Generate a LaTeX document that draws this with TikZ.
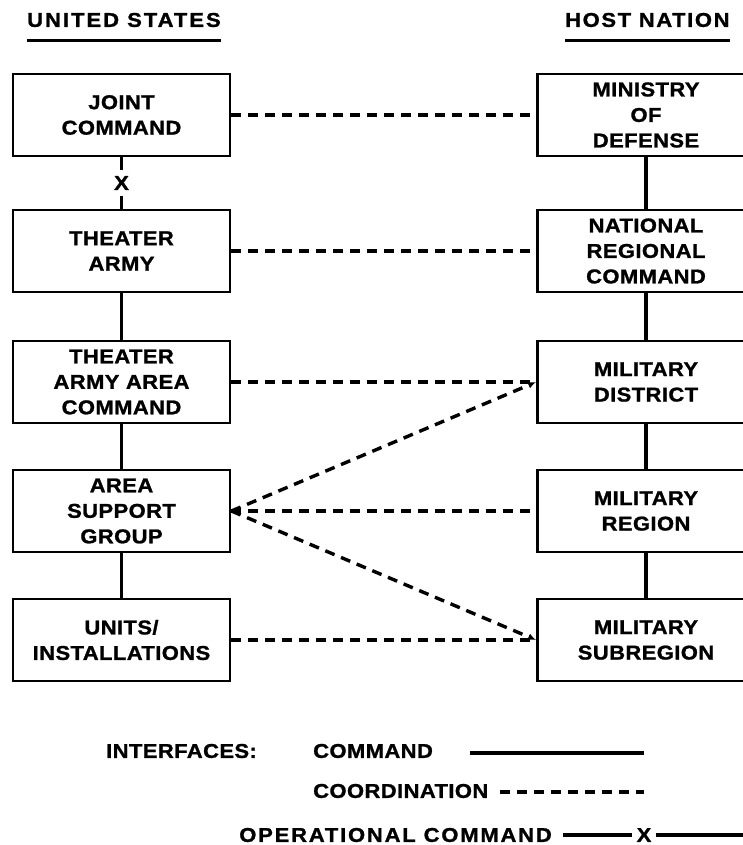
\documentclass[tikz,border=0pt]{standalone}
\usepackage{fontspec}
\setmainfont{Liberation Sans}[FakeStretch=1.10, LetterSpace=2, BoldFeatures={FakeBold=1.2}]
\usetikzlibrary{arrows.meta}
\begin{document}
\begin{tikzpicture}[x=1pt,y=-1pt,
  txt/.style={font=\bfseries\fontsize{20}{25.5}\selectfont},
  box/.style={txt, draw, line width=2.8pt, minimum width=217pt, minimum height=82pt, inner sep=0pt, align=center},
  cmd/.style={line width=3.6pt},
  coord/.style={line width=3.4pt, dash pattern=on 10pt off 7pt},
  lbl/.style={txt, inner sep=0pt},
  tip/.style={-{Latex[length=8pt,width=7pt]}}
]
\useasboundingbox (0,0) rectangle (743,845);
\begin{scope}
\clip (0,0) rectangle (743,845);
% headers
\node[lbl, anchor=west] (us) at (27,20) {\addfontfeatures{LetterSpace=10}UNITED STATES};
\node[lbl, anchor=west] (hn) at (565,20) {\addfontfeatures{LetterSpace=8}HOST NATION};
\draw[line width=2.8pt] ([yshift=-13pt]us.south west) -- ([yshift=-13pt]us.south east);
\draw[line width=2.8pt] ([yshift=-13pt]hn.south west) -- ([yshift=-13pt]hn.south east);
% left column
\node[box] (jc) at (121.5,115) {JOINT\\COMMAND};
\node[box] (ta) at (121.5,251) {THEATER\\ARMY};
\node[box] (taac) at (121.5,382) {THEATER\\ARMY AREA\\COMMAND};
\node[box] (asg) at (121.5,511) {AREA\\SUPPORT\\GROUP};
\node[box] (units) at (121.5,640) {UNITS/\\INSTALLATIONS};
% right column
\node[box] (mod) at (646,115) {MINISTRY\\OF\\DEFENSE};
\node[box] (nrc) at (646,251) {NATIONAL\\REGIONAL\\COMMAND};
\node[box] (dist) at (646,382) {MILITARY\\DISTRICT};
\node[box] (reg) at (646,511) {MILITARY\\REGION};
\node[box] (sub) at (646,640) {MILITARY\\SUBREGION};
% command lines
\draw[cmd] (jc.south) -- node[lbl, fill=white, minimum height=25pt] {X} (ta.north);
\draw[cmd] (ta.south) -- (taac.north);
\draw[cmd] (taac.south) -- (asg.north);
\draw[cmd] (asg.south) -- (units.north);
\draw[cmd] (mod.south) -- (nrc.north);
\draw[cmd] (nrc.south) -- (dist.north);
\draw[cmd] (dist.south) -- (reg.north);
\draw[cmd] (reg.south) -- (sub.north);
% coordination lines
\draw[coord] (jc.east) -- (mod.west);
\draw[coord] (ta.east) -- (nrc.west);
\draw[coord] (taac.east) -- (dist.west);
\draw[coord] (asg.east) -- (reg.west);
\draw[coord] (units.east) -- (sub.west);
\draw[coord, tip] (asg.east) -- (dist.west);
\draw[coord, tip] (asg.east) -- (sub.west);
% legend
\node[lbl, anchor=west] (intf) at (106,751) {INTERFACES:};
\node[lbl, anchor=west] (lcmd) at (313,751) {COMMAND};
\coordinate (c1a) at (470,753);
\coordinate (c1b) at (644,753);
\draw[cmd] (c1a) -- (c1b);
\node[lbl, anchor=west] (lcoord) at (313,791) {COORDINATION};
\coordinate (c2a) at (500,792);
\coordinate (c2b) at (644,792);
\draw[coord] (c2a) -- (c2b);
\node[lbl, anchor=east] (lop) at (552,835) {\addfontfeatures{LetterSpace=9}OPERATIONAL COMMAND};
\coordinate (c3a) at (563,835);
\node[lbl, inner xsep=4pt] (lx) at (644,835) {X};
\coordinate (c3b) at (750,835);
\draw[cmd] (c3a) -- (lx.west);
\draw[cmd] (lx.east) -- (c3b);
\end{scope}
\end{tikzpicture}
\end{document}
